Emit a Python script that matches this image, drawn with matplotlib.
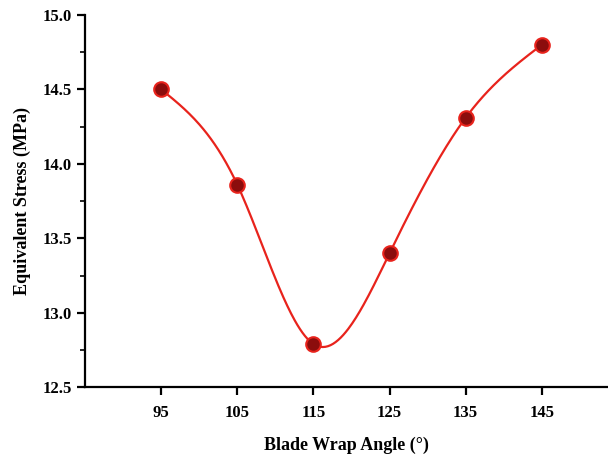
import numpy as np
import matplotlib.pyplot as plt

# Data
wrap_angle = [95, 105, 115, 125, 135, 145]
stress = [14.50, 13.86, 12.79, 13.40, 14.31, 14.80]
x_ticks = [95, 105, 115, 125, 135, 145]
y_ticks = [12.5, 13.0, 13.5, 14.0, 14.5, 15.0]

plt.rcParams["font.family"] = ["Liberation Serif", "DejaVu Serif"]
plt.rcParams["font.weight"] = "bold"


# Natural cubic spline through the points for the smooth line
def natural_spline(x, y, n=300):
    x = np.asarray(x, float)
    y = np.asarray(y, float)
    k = len(x)
    h = np.diff(x)
    A = np.zeros((k, k))
    b = np.zeros(k)
    A[0, 0] = A[-1, -1] = 1
    for i in range(1, k - 1):
        A[i, i - 1] = h[i - 1]
        A[i, i] = 2 * (h[i - 1] + h[i])
        A[i, i + 1] = h[i]
        b[i] = 6 * ((y[i + 1] - y[i]) / h[i] - (y[i] - y[i - 1]) / h[i - 1])
    M = np.linalg.solve(A, b)
    xs = np.linspace(x[0], x[-1], n)
    ys = np.empty_like(xs)
    for j, xv in enumerate(xs):
        i = min(np.searchsorted(x, xv) - 1, k - 2)
        i = max(i, 0)
        t1 = x[i + 1] - xv
        t2 = xv - x[i]
        ys[j] = (M[i] * t1 ** 3 / (6 * h[i]) + M[i + 1] * t2 ** 3 / (6 * h[i])
                 + (y[i] / h[i] - M[i] * h[i] / 6) * t1
                 + (y[i + 1] / h[i] - M[i + 1] * h[i] / 6) * t2)
    return xs, ys


fig = plt.figure(figsize=(6.08, 4.55), dpi=100)
ax = fig.add_axes([0.14, 0.149, 0.86, 0.818])

xs, ys = natural_spline(wrap_angle, stress)
ax.plot(xs, ys, color="#e8231c", lw=1.6, zorder=2)
ax.plot(wrap_angle, stress, "o", ms=10.5, mfc="#8b0d0d", mec="#e8231c", mew=1.5, zorder=3)

ax.set_xlim(85, 153.7)
ax.set_ylim(12.5, 15.0)
ax.set_xticks(x_ticks)
ax.set_yticks(y_ticks)
ax.set_yticks([12.75, 13.25, 13.75, 14.25, 14.75], minor=True)
ax.yaxis.set_major_formatter(plt.FormatStrFormatter("%.1f"))

for s in ["top", "right"]:
    ax.spines[s].set_visible(False)
for s in ["left", "bottom"]:
    ax.spines[s].set_linewidth(1.6)
ax.tick_params(axis="both", which="major", direction="out", length=6, width=1.6,
               labelsize=12)
ax.tick_params(axis="x", which="major", pad=7)
ax.tick_params(axis="y", which="minor", direction="out", length=3.5, width=1.2)

ax.set_xlabel("Blade Wrap Angle (°)", fontsize=13, fontweight="bold", labelpad=11)
ax.set_ylabel("Equivalent Stress (MPa)", fontsize=13, fontweight="bold", labelpad=8)

fig.savefig("out.png", dpi=100)
